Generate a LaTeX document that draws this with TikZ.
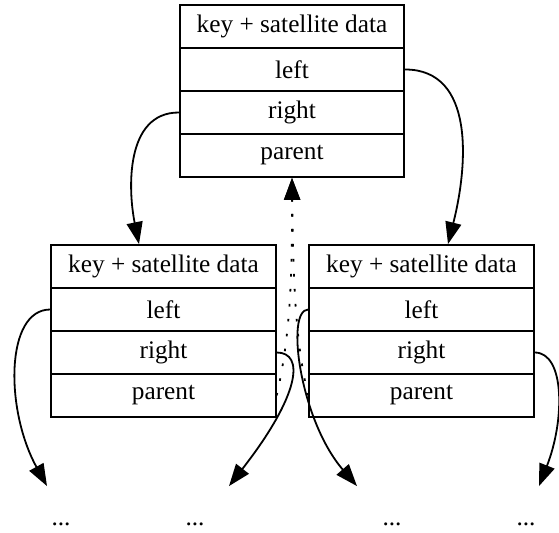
\documentclass[tikz,border=0pt]{standalone}
\usepackage{fontspec}
\setmainfont{Liberation Serif}
\usetikzlibrary{arrows.meta}
\begin{document}
\begin{tikzpicture}[x=0.5pt,y=-0.5pt,
  font=\fontsize{12.65}{15}\selectfont,
  row/.style={draw,line width=0.9pt,minimum width=112.25pt,minimum height=21.5pt,inner sep=0pt},
  dots/.style={minimum width=49pt,minimum height=32.5pt,inner sep=0pt,text height=7pt,text depth=0pt},
  edge/.style={line width=0.9pt,-{Triangle[length=11pt,width=8pt]}},
  dotedge/.style={edge,dash pattern=on 1.3pt off 6.2pt}]
\useasboundingbox (0,0) rectangle (559,533);
% top record
\node[row] (t1) at (292,26.5) {key + satellite data};
\node[row] (t2) at (292,69.5) {left};
\node[row] (t3) at (292,112.5) {right};
\node[row] (t4) at (292,155.5) {parent};
% left record
\node[row] (l1) at (163.5,266.5) {key + satellite data};
\node[row] (l2) at (163.5,309.5) {left};
\node[row] (l3) at (163.5,352.5) {right};
\node[row] (l4) at (163.5,395.5) {parent};
% right record
\node[row] (r1) at (421.5,266.5) {key + satellite data};
\node[row] (r2) at (421.5,309.5) {left};
\node[row] (r3) at (421.5,352.5) {right};
\node[row] (r4) at (421.5,395.5) {parent};
% leaves
\node[dots] (d1) at (61,519) {...};
\node[dots] (d2) at (195,519) {...};
\node[dots] (d3) at (392,519) {...};
\node[dots] (d4) at (526,519) {...};
% edges
\draw[edge] (t3.west) .. controls (125,112.5) and (128,190) .. ([xshift=-12.25pt]l1.north);
\draw[edge] (t2.east) .. controls (475,69.5) and (468,165) .. ([xshift=13.25pt]r1.north);
\draw[edge] (l2.west) .. controls (5,309.5) and (5,410) .. ([xshift=-7pt]d1.north);
\draw[edge] (l3.east) .. controls (305,352.5) and (300,395) .. ([xshift=17pt]d2.north);
\draw[edge] (r2.west) .. controls (285,309.5) and (300,420) .. ([xshift=-17.5pt]d3.north);
\draw[edge] (r3.east) .. controls (565,352.5) and (565,420) .. ([xshift=6.5pt]d4.north);
\draw[dotedge] (l4.east) .. controls (292,330) and (292,260) .. (t4.south);
\draw[dotedge] (r4.west) .. controls (294,340) and (293,260) .. (t4.south);
\end{tikzpicture}
\end{document}
